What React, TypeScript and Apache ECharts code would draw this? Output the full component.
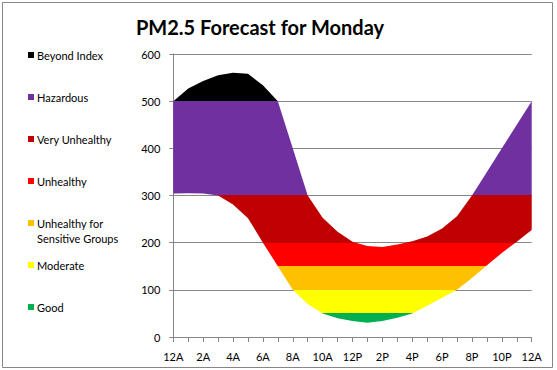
import React, { useEffect, useRef } from "react";
import * as echarts from "echarts";

const hours = [
  "12A", "1A", "2A", "3A", "4A", "5A", "6A", "7A", "8A", "9A", "10A", "11A",
  "12P", "1P", "2P", "3P", "4P", "5P", "6P", "7P", "8P", "9P", "10P", "11P", "12A",
];
const upperValues = [500, 527, 543, 555, 560, 558, 534, 500, 400, 300, 253, 223, 202, 193, 191, 196, 203, 213, 230, 256, 300, 350, 400, 450, 500];
const lowerValues = [304, 305, 304, 300, 281, 252, 200, 150, 100, 70, 50, 40, 34, 30, 34, 41, 50, 66, 83, 100, 125, 152, 178, 202, 227];

const bandNames = ["Beyond Index", "Hazardous", "Very Unhealthy", "Unhealthy", "Unhealthy for\nSensitive Groups", "Moderate", "Good"];
const bandColors = ["#000000", "#7030A0", "#C00000", "#FF0000", "#FFC000", "#FFFF00", "#00B050"];
const bandLows = [500, 300, 200, 150, 100, 50, 0];
const bandHighs = [Infinity, 500, 300, 200, 150, 100, 50];
const yTicks = [0, 100, 200, 300, 400, 500, 600];

const FONT = "Lato, 'Liberation Sans', sans-serif";

export default function App() {
  const ref = useRef<HTMLDivElement>(null);
  useEffect(() => {
    document.body.style.margin = "0";
    if (!ref.current) return;
    const chart = echarts.init(ref.current, undefined, { renderer: "svg" });
    const legendY = [55, 97, 139, 181, 223, 265, 307];
    const graphics: any[] = [
      {
        type: "rect",
        shape: { x: 2.5, y: 2.5, width: 550, height: 365 },
        style: { fill: "none", stroke: "#868686", lineWidth: 1 },
        silent: true,
      },
      {
        type: "text",
        x: 260,
        y: 27,
        style: {
          text: "PM2.5 Forecast for Monday",
          font: `bold 20px ${FONT}`,
          fill: "#000",
          textAlign: "center",
          textVerticalAlign: "middle",
        },
      },
    ];
    bandNames.forEach((name, i) => {
      graphics.push({
        type: "rect",
        shape: { x: 28, y: legendY[i] - 3, width: 6, height: 6 },
        style: { fill: bandColors[i] },
      });
      graphics.push({
        type: "text",
        x: 37,
        y: name.includes("\n") ? legendY[i] + 7.5 : legendY[i],
        style: {
          text: name,
          font: `11px ${FONT}`,
          fill: "#000",
          textAlign: "left",
          textVerticalAlign: "middle",
          lineHeight: 15,
        },
      });
    });

    const pieces = bandLows.map((lo, i) => {
      const hi = bandHighs[i];
      const p: any = { color: bandColors[i] };
      if (lo > 0) p.gt = lo; else p.gte = lo;
      if (isFinite(hi)) p.lte = hi;
      return p;
    });

    chart.setOption({
      animation: false,
      grid: { left: 173.3, right: 25.3, top: 54, bottom: 33 },
      graphic: graphics,
      visualMap: {
        type: "piecewise",
        show: false,
        seriesIndex: 1,
        dimension: 1,
        pieces,
      },
      xAxis: {
        type: "category",
        data: hours,
        boundaryGap: false,
        axisLine: { lineStyle: { color: "#868686" } },
        axisTick: { show: true, interval: 0, length: 5, lineStyle: { color: "#868686" } },
        axisLabel: { interval: 1, margin: 14, fontSize: 11, fontFamily: FONT, color: "#000" },
        splitLine: { show: false },
      },
      yAxis: {
        type: "value",
        min: yTicks[0],
        max: yTicks[yTicks.length - 1],
        interval: 100,
        axisLine: { show: true, lineStyle: { color: "#868686" } },
        axisTick: { show: true, length: 4, lineStyle: { color: "#868686" } },
        axisLabel: { margin: 13, fontSize: 11, fontFamily: FONT, color: "#000" },
        splitLine: { show: true, lineStyle: { color: "#868686" } },
      },
      series: [
        {
          type: "line",
          stack: "band",
          data: lowerValues,
          symbol: "none",
          lineStyle: { width: 0, opacity: 0 },
          silent: true,
        },
        {
          type: "line",
          stack: "band",
          data: upperValues.map((u, i) => u - lowerValues[i]),
          symbol: "none",
          lineStyle: { width: 0, opacity: 0 },
          areaStyle: { opacity: 1 },
          silent: true,
        },
      ],
    });
    return () => chart.dispose();
  }, []);
  return <div ref={ref} style={{ width: 557, height: 370 }} />;
}
